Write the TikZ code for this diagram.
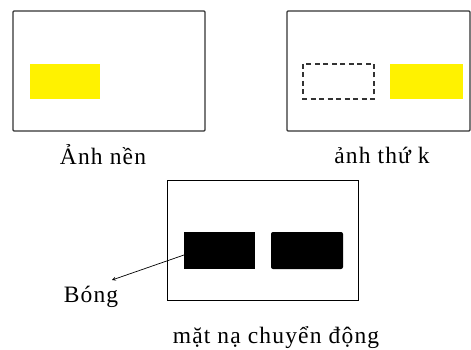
\documentclass[tikz,border=0pt]{standalone}
\usepackage{fontspec}
\setmainfont[LetterSpace=5]{Liberation Serif}
\begin{document}
\begin{tikzpicture}[x=1pt,y=-1pt,
  frame/.style={draw=black!80,line width=1.3pt,rounded corners=1pt},
  lbl/.style={font=\fontsize{23.5}{28}\selectfont,inner sep=0pt}]
\useasboundingbox[fill=white] (0,0) rectangle (471,350);
\draw[frame] (13,11) rectangle (205,131);
\fill[yellow] (30,64) rectangle (100,99);
\node[lbl] (l1) at (103,155) {Ảnh nền};
\draw[frame] (287,11) rectangle (470,131);
\draw[black!80,line width=1.1pt,dash pattern=on 5pt off 3.5pt] (303,64) rectangle (374,99);
\fill[yellow] (390,64) rectangle (463,99);
\node[lbl] (l2) at (382,155) {ảnh thứ k};
\draw[black,line width=1pt] (167,180) rectangle (358,300);
\fill[black] (184,232) rectangle (255,269);
\fill[black,rounded corners=2pt] (271,232) rectangle (343,269);
\coordinate (src) at (184,255);
\node[lbl] (bong) at (91,297) {Bóng};
\coordinate (tip) at (112,280);
\draw[-stealth,line width=0.7pt] (src) -- (tip);
\node[lbl] (l3) at (276,338) {mặt nạ chuyển động};
\end{tikzpicture}
\end{document}
